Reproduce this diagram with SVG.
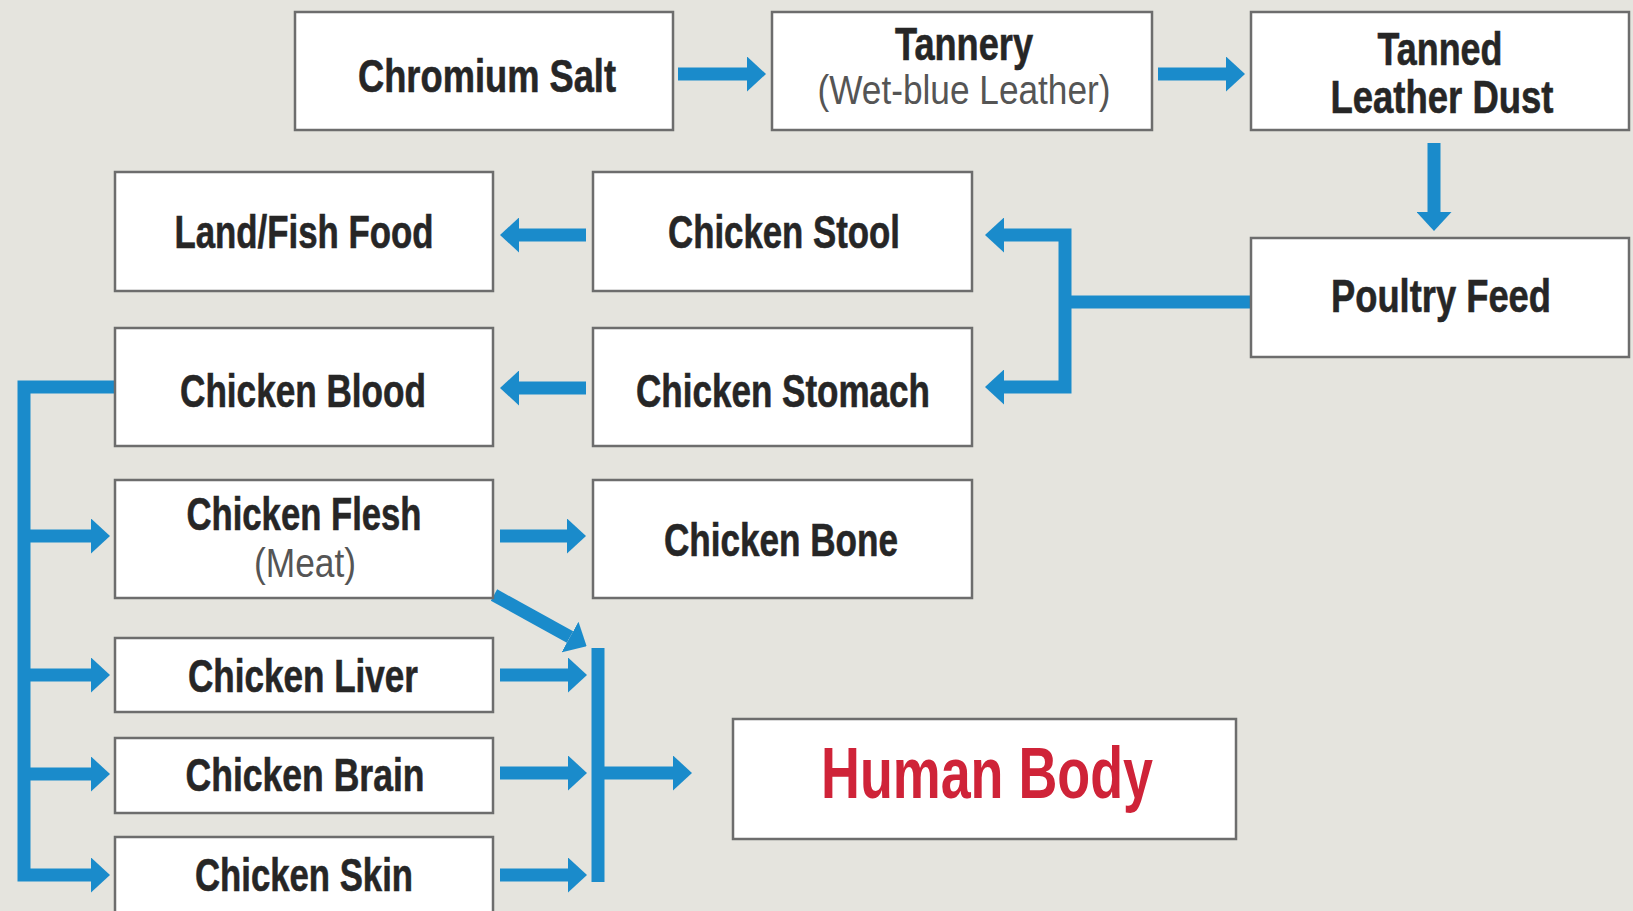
<svg xmlns="http://www.w3.org/2000/svg" width="1633" height="911" viewBox="0 0 1633 911">
<defs>
<style>
.box{fill:#ffffff;stroke:#6d6d6d;stroke-width:2.5}
.t{font-family:"Liberation Sans","DejaVu Sans",Arial,sans-serif;font-weight:bold;font-size:47px;fill:#262626;stroke:#262626;stroke-width:0.6;text-anchor:middle}
.s{font-family:"Liberation Sans","DejaVu Sans",Arial,sans-serif;font-weight:normal;font-size:40px;fill:#555555;text-anchor:middle}
.hb{font-family:"Liberation Sans","DejaVu Sans",Arial,sans-serif;font-weight:bold;font-size:72px;fill:#cf2338;text-anchor:middle}
.c{fill:none;stroke:#1a8bcb;stroke-width:13;stroke-linejoin:miter}
.ca{fill:none;stroke:#1a8bcb;stroke-width:13;marker-end:url(#ah)}
</style>
<marker id="ah" markerUnits="userSpaceOnUse" viewBox="0 0 19 35" refX="0" refY="17.5" markerWidth="19" markerHeight="35" orient="auto">
<path d="M0,0 L19,17.5 L0,35 Z" fill="#1a8bcb"/>
</marker>
<marker id="ahs" markerUnits="userSpaceOnUse" viewBox="0 0 19 35" refX="0" refY="17.5" markerWidth="19" markerHeight="35" orient="auto-start-reverse">
<path d="M0,0 L19,17.5 L0,35 Z" fill="#1a8bcb"/>
</marker>
</defs>
<rect x="0" y="0" width="1633" height="911" fill="#e5e4de"/>

<g id="connectors">
<path class="ca" d="M678,74 H747"/>
<path class="ca" d="M1158,74 H1226"/>
<path class="ca" d="M1434,143 V212"/>
<path class="c" d="M1250,302 H1065"/>
<path class="c" d="M1004,235 H1065 V387 H1004" marker-start="url(#ahs)" marker-end="url(#ah)"/>
<path class="ca" d="M586,235 H519"/>
<path class="ca" d="M586,388 H519"/>
<path class="ca" d="M115,387 H24 V875 H91"/>
<path class="ca" d="M24,536 H91"/>
<path class="ca" d="M24,675 H91"/>
<path class="ca" d="M24,774 H91"/>
<path class="ca" d="M500,536 H567"/>
<path class="ca" d="M494,595 L570,637"/>
<path class="ca" d="M500,675 H568"/>
<path class="ca" d="M500,773 H568"/>
<path class="ca" d="M500,875 H568"/>
<path class="c" d="M598,648 V882"/>
<path class="ca" d="M598,773 H673"/>
</g>

<g id="chromium-salt"><rect class="box" x="295" y="12" width="378" height="118"/><text class="t" x="487" y="92" textLength="258" lengthAdjust="spacingAndGlyphs">Chromium Salt</text></g>
<g id="tannery"><rect class="box" x="772" y="12" width="380" height="118"/><text class="t" x="964" y="60" font-size="44" textLength="138" lengthAdjust="spacingAndGlyphs">Tannery</text><text class="s" x="964" y="104" textLength="293" lengthAdjust="spacingAndGlyphs">(Wet-blue Leather)</text></g>
<g id="tanned-leather-dust"><rect class="box" x="1251" y="12" width="378" height="118"/><text class="t" x="1440" y="65" font-size="44" textLength="125" lengthAdjust="spacingAndGlyphs">Tanned</text><text class="t" x="1442" y="113" font-size="44" textLength="223" lengthAdjust="spacingAndGlyphs">Leather Dust</text></g>
<g id="land-fish-food"><rect class="box" x="115" y="172" width="378" height="119"/><text class="t" x="304" y="248" textLength="259" lengthAdjust="spacingAndGlyphs">Land/Fish Food</text></g>
<g id="chicken-stool"><rect class="box" x="593" y="172" width="379" height="119"/><text class="t" x="784" y="248" textLength="232" lengthAdjust="spacingAndGlyphs">Chicken Stool</text></g>
<g id="poultry-feed"><rect class="box" x="1251" y="238" width="378" height="119"/><text class="t" x="1441" y="312" textLength="220" lengthAdjust="spacingAndGlyphs">Poultry Feed</text></g>
<g id="chicken-blood"><rect class="box" x="115" y="328" width="378" height="118"/><text class="t" x="303" y="407" textLength="246" lengthAdjust="spacingAndGlyphs">Chicken Blood</text></g>
<g id="chicken-stomach"><rect class="box" x="593" y="328" width="379" height="118"/><text class="t" x="783" y="407" textLength="294" lengthAdjust="spacingAndGlyphs">Chicken Stomach</text></g>
<g id="chicken-flesh"><rect class="box" x="115" y="480" width="378" height="118"/><text class="t" x="304" y="530" font-size="45" textLength="235" lengthAdjust="spacingAndGlyphs">Chicken Flesh</text><text class="s" x="305" y="577" textLength="102" lengthAdjust="spacingAndGlyphs">(Meat)</text></g>
<g id="chicken-bone"><rect class="box" x="593" y="480" width="379" height="118"/><text class="t" x="781" y="556" textLength="234" lengthAdjust="spacingAndGlyphs">Chicken Bone</text></g>
<g id="chicken-liver"><rect class="box" x="115" y="638" width="378" height="74"/><text class="t" x="303" y="692" textLength="230" lengthAdjust="spacingAndGlyphs">Chicken Liver</text></g>
<g id="chicken-brain"><rect class="box" x="115" y="738" width="378" height="75"/><text class="t" x="305" y="791" textLength="239" lengthAdjust="spacingAndGlyphs">Chicken Brain</text></g>
<g id="chicken-skin"><rect class="box" x="115" y="837" width="378" height="90"/><text class="t" x="304" y="891" textLength="218" lengthAdjust="spacingAndGlyphs">Chicken Skin</text></g>
<g id="human-body"><rect class="box" x="733" y="719" width="503" height="120"/><text class="hb" x="987" y="798" textLength="332" lengthAdjust="spacingAndGlyphs">Human Body</text></g>
</svg>
